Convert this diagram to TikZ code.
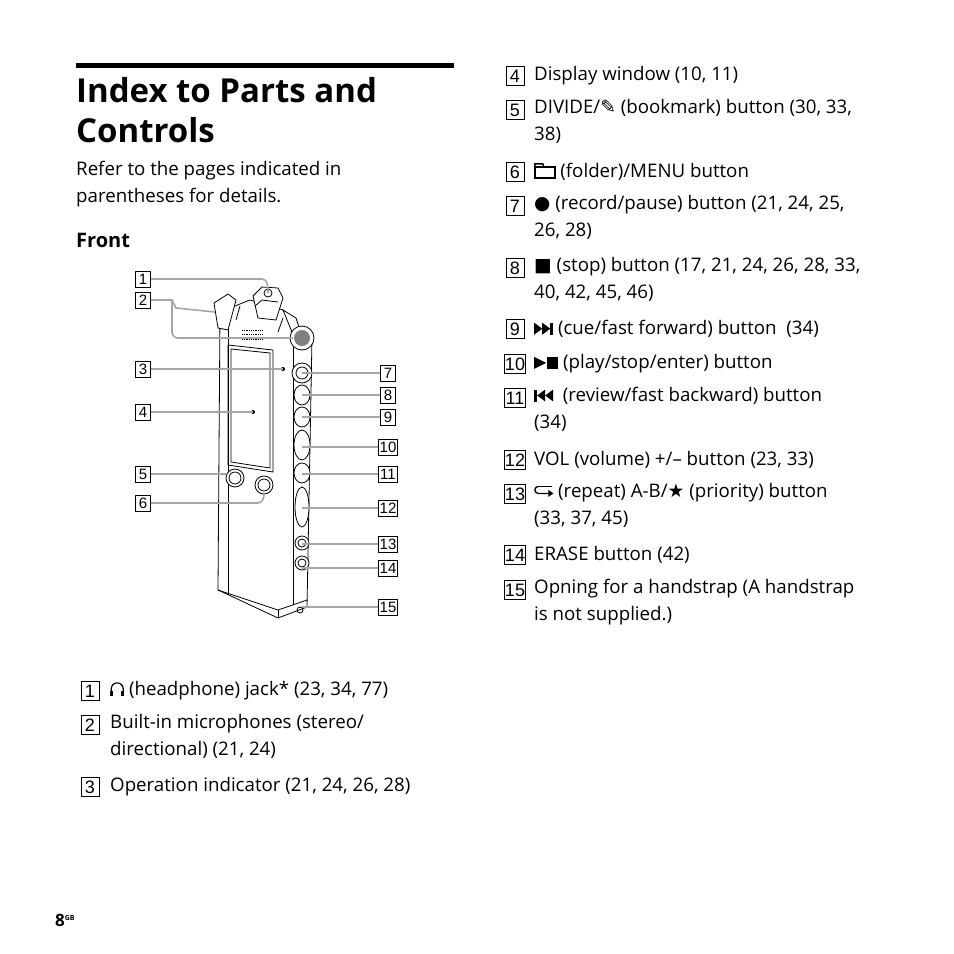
\documentclass[tikz,border=0pt]{standalone}
\usepackage{fontspec}
\setmainfont{Open Sans}
\newfontfamily\symf{DejaVu Sans}
\newfontfamily\boxf{Liberation Sans}
\begin{document}
\begin{tikzpicture}[x=1pt,y=-1pt,
  txt/.style={anchor=west,font=\fontsize{18.7}{27}\selectfont,inner sep=0,align=left},
  nb/.style={draw,line width=0.9pt,minimum width=18pt,minimum height=19pt,inner sep=0,font=\boxf\fontsize{18}{18}\selectfont},
  nbw/.style={nb,minimum width=21pt},
  sb/.style={draw,line width=0.8pt,minimum width=15pt,minimum height=16pt,inner sep=0,font=\boxf\fontsize{15}{15}\selectfont},
  sbw/.style={sb,minimum width=19pt},
  lead/.style={draw=gray!70,line width=1.6pt},
  dev/.style={draw,line width=0.8pt},
  btn/.style={draw,line width=0.8pt,fill=white},
  ic/.style={x=1pt,y=1pt,baseline=0}]
\useasboundingbox (0,0) rectangle (954,954);
% title
\draw[line width=5pt] (76,65) -- (454,65);
\node[anchor=west,inner sep=0,font=\bfseries\fontsize{33}{40}\selectfont,align=left] (title) at (76,110) {Index to Parts and\\Controls};
\node[txt] (refer) at (76,184) {Refer to the pages indicated in\\parentheses for details.};
\node[txt,font=\bfseries\fontsize{20}{25}\selectfont] (front) at (76,240) {Front};
% page
\node[anchor=base west,inner sep=0,font=\bfseries\fontsize{17}{18}\selectfont] (pg) at (55,926) {8\raisebox{6pt}{\fontsize{7}{7}\selectfont GB}};
% right column list
\foreach \n/\y in {4/76,5/110,6/172,7/206,8/268,9/329} \node[nb] (r\n) at (515,\y) {\n};
\foreach \n/\y in {10/364,11/398,12/460,13/494,14/555,15/590} \node[nbw] (r\n) at (515,\y) {\n};
\node[txt] (t4) at (534,76) {Display window (10, 11)};
\node[txt,anchor=north west] (t5) at (534,99) {DIVIDE/{\symf ✎} (bookmark) button (30, 33,\\38)};
\node[txt] (t6) at (534,172) {\tikz[ic]{\draw[line width=1.3pt](0,0)rectangle(20,11);\draw[line width=1.3pt](0,11)--(0,14)--(8,14)--(9,11);} (folder)/MENU button};
\node[txt,anchor=north west] (t7) at (534,195) {{\symf ●} (record/pause) button (21, 24, 25,\\26, 28)};
\node[txt,anchor=north west] (t8) at (534,257) {{\symf ■} (stop) button (17, 21, 24, 26, 28, 33,\\40, 42, 45, 46)};
\node[txt] (t9) at (534,329) {\tikz[ic]{\fill(0,0)--(8,6)--(0,12)--cycle;\fill(8,0)--(16,6)--(8,12)--cycle;\fill(16,0)rectangle(19,12);} (cue/fast forward) button\ \ (34)};
\node[txt] (t10) at (534,364) {\tikz[ic]{\fill(0,0)--(12,6)--(0,12)--cycle;\fill(13,0)rectangle(24,12);} (play/stop/enter) button};
\node[txt,anchor=north west] (t11) at (534,387) {\tikz[ic]{\fill(0,0)rectangle(3,12);\fill(11,0)--(3,6)--(11,12)--cycle;\fill(19,0)--(11,6)--(19,12)--cycle;}\ \ (review/fast backward) button\\(34)};
\node[txt] (t12) at (534,460) {VOL (volume) +/– button (23, 33)};
\node[txt,anchor=north west] (t13) at (534,483) {\tikz[ic]{\draw[line width=1.3pt](4,11)--(18,11);\draw[line width=1.3pt](4,11) arc(90:270:3.5)--(16,4);\fill(19,4)--(14,0.5)--(14,7.5)--cycle;} (repeat) A-B/{\symf ★} (priority) button\\(33, 37, 45)};
\node[txt] (t14) at (534,555) {ERASE button (42)};
\node[txt,anchor=north west] (t15) at (534,579) {Opning for a handstrap (A handstrap\\is not supplied.)};
% bottom left list
\node[nb] (l1) at (90,691) {1};
\node[nb] (l2) at (90,725) {2};
\node[nb] (l3) at (90,787) {3};
\node[txt] (u1) at (110,691) {\tikz[ic]{\draw[line width=1.2pt](1,2)--(1,7) arc(180:0:6)--(13,2);\fill(0,0)rectangle(3,5);\fill(11,0)rectangle(14,5);} (headphone) jack* (23, 34, 77)};
\node[txt,anchor=north west] (u2) at (110,714) {Built-in microphones (stereo/\\directional) (21, 24)};
\node[txt] (u3) at (110,787) {Operation indicator (21, 24, 26, 28)};
% device
\draw[dev,fill=white] (220,312) -- (218,590) -- (278,618) -- (307,607) -- (312,338) -- (292,322) -- (283,310) -- (250,300) -- cycle;
\draw[dev] (228,318) -- (228,595);
\draw[dev] (218,590) -- (278,610) -- (307,600);
\draw[dev] (278,610) -- (278,618);
\draw[dev] (293,340) -- (293,605);
\draw[dev,fill=white] (214,303) -- (228,294) -- (236,300) -- (228,330) -- (218,328) -- cycle;
\draw[dev,fill=white] (253,296) -- (262,287) -- (278,288) -- (283,298) -- (276,320) -- (258,318) -- cycle;
\draw[dev] (262,300) -- (278,302);
\draw[dev] (255,306) -- (262,300);
\draw[dev,fill=white] (283,310) -- (296,318) -- (300,330) -- (292,332) -- cycle;
\draw[dev] (240,306) -- (236,320); \draw[dev] (283,318) -- (278,332);
\draw[dev] (268,293) circle (4);
\draw[dev,densely dotted] (242,330) -- (262,330); \draw[dev,densely dotted] (242,334) -- (262,334); \draw[dev,densely dotted] (242,339) -- (262,339);
\draw[dev,fill=white] (302,338) circle (12);
\fill[gray] (302,338) circle (8);
\draw[dev] (228,345) -- (273,350) -- (273,472) -- (228,465) -- cycle;
\draw[dev] (231,349) -- (270,353) -- (270,468) -- (231,462) -- cycle;
\fill (283,369) circle (2);
\fill (253,412) circle (2);
\draw[btn] (235,478) circle (9); \draw[dev] (235,478) circle (6);
\draw[btn] (264,485) circle (9); \draw[dev] (264,485) circle (6);
\draw[btn] (302,373) circle (10); \draw[dev] (302,373) circle (6);
\draw[btn] (302,395) ellipse (8 and 10);
\draw[btn] (302,417) ellipse (8 and 10);
\draw[btn] (302,445) ellipse (8 and 15);
\draw[btn] (302,473) ellipse (8 and 10);
\draw[btn] (302,507) ellipse (7 and 20);
\draw[btn] (302,543) circle (7); \draw[dev] (302,543) circle (4);
\draw[btn] (302,563) circle (7); \draw[dev] (302,563) circle (4);
\draw[dev] (300,610) circle (3);
% small numbered boxes
\node[sb] (b1) at (143,279) {1};
\node[sb] (b2) at (143,300) {2};
\node[sb] (b3) at (143,369) {3};
\node[sb] (b4) at (143,412) {4};
\node[sb] (b5) at (143,474) {5};
\node[sb] (b6) at (143,503) {6};
\node[sb] (b7) at (388,373) {7};
\node[sb] (b8) at (388,395) {8};
\node[sb] (b9) at (388,417) {9};
\node[sbw] (b10) at (388,447) {10};
\node[sbw] (b11) at (388,474) {11};
\node[sbw] (b12) at (388,508) {12};
\node[sbw] (b13) at (388,544) {13};
\node[sbw] (b14) at (388,568) {14};
\node[sbw] (b15) at (388,607) {15};
% leaders
\coordinate (p1) at (268,293);
\path[lead] (b1.east) -- (262,279) to[out=0,in=90] (p1);
\path[lead] (b2.east) -- (172,300) -- (172,332) to[out=-90,in=180] (178,338) -- (293,338);
\path[lead] (172,300) -- (176,308) -- (215,312);
\path[lead] (b3.east) -- (283,369);
\path[lead] (b4.east) -- (253,412);
\path[lead] (b5.east) -- (226,474);
\path[lead] (b6.east) -- (258,503) to[out=0,in=-90] (264,494);
\foreach \n/\y in {7/373,8/395,9/417,10/447,11/474,12/508,13/544,14/568,15/607} \path[lead] (302,\y) -- (b\n.west);
\end{tikzpicture}
\end{document}
